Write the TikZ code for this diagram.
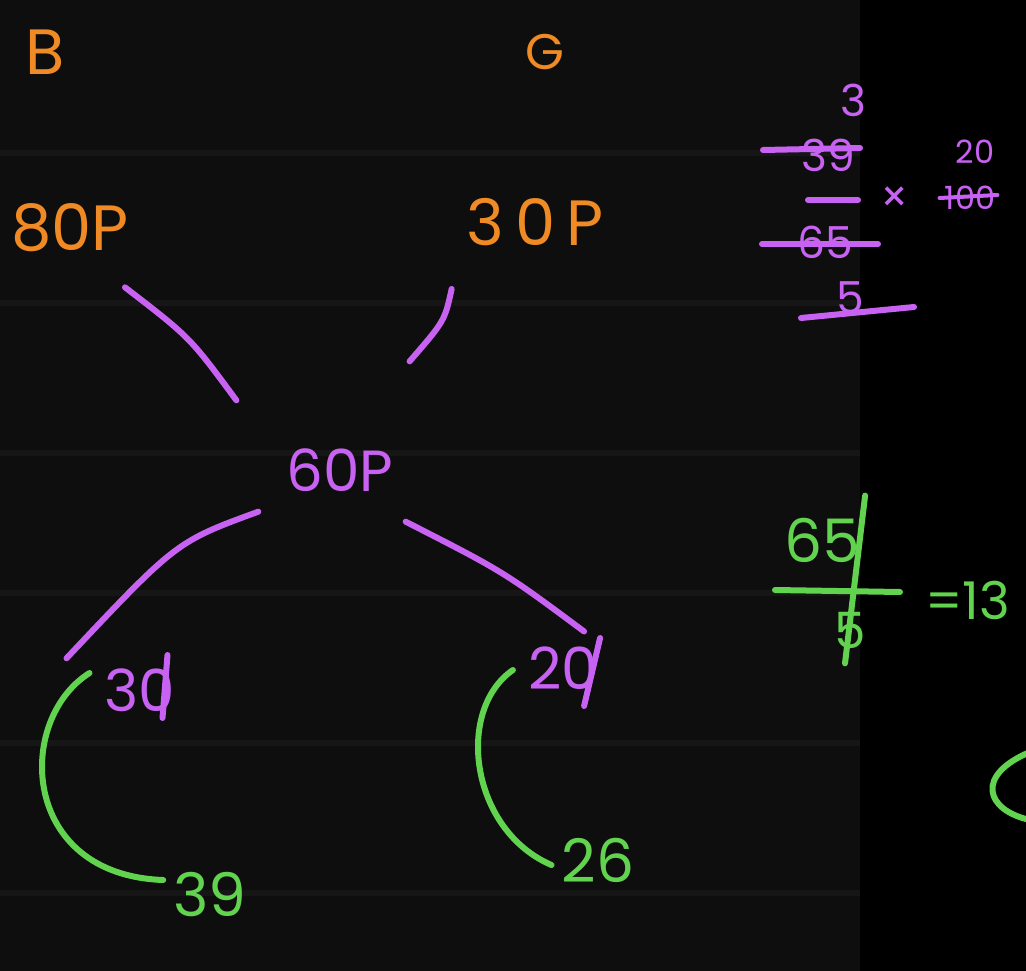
\documentclass[tikz,border=0pt]{standalone}
\usepackage{fontspec}
\setmainfont{Poppins}
\usetikzlibrary{calc}
\definecolor{bgA}{HTML}{0E0E0E}
\definecolor{bgB}{HTML}{000000}
\definecolor{band}{HTML}{161616}
\definecolor{ink1}{HTML}{F08A24}
\definecolor{ink2}{HTML}{C862F2}
\definecolor{ink3}{HTML}{62D34F}
\tikzset{
  or/.style={text=ink1,inner sep=0pt,font=\fontsize{64}{64}\selectfont},
  pu/.style={text=ink2,inner sep=0pt,font=\fontsize{58}{58}\selectfont},
  pus/.style={text=ink2,inner sep=0pt,font=\fontsize{44}{44}\selectfont},
  puxs/.style={text=ink2,inner sep=0pt,font=\fontsize{32}{32}\selectfont},
  gr/.style={text=ink3,inner sep=0pt,font=\fontsize{60}{60}\selectfont},
  pstroke/.style={draw=ink2,line width=6pt,line cap=round},
  gstroke/.style={draw=ink3,line width=6pt,line cap=round},
}
\begin{document}
\begin{tikzpicture}[x=1pt,y=-1pt]
\useasboundingbox (0,0) rectangle (1026,971);
\fill[bgA] (0,0) rectangle (860,971);
\fill[bgB] (860,0) rectangle (1026,971);
\foreach \yy in {150,300,450,590,740,890}{\fill[band] (0,\yy) rectangle (860,\yy+6);}
% orange headings
\node[or] (B) at (45,52) {B};
\node[or,font=\fontsize{50}{50}\selectfont] (G) at (545,52) {G};
\node[or] (b80) at (70,228) {80P};
\node[or] (g30) at (535,222) {3\,0\,P};
% purple middle
\node[pu] (m60) at (340,470) {60P};
\node[pu] (n30) at (140,690) {30};
\node[pu] (n20) at (563,668) {20};
\draw[pstroke] ($(b80.south)+(55,35)$) .. controls ($(b80.south)+(120,85)$) .. ($(m60.north west)+(-50,-48)$);
\draw[pstroke] ($(g30.south west)+(-15,43)$) .. controls ($(g30.south west)+(-22,75)$) .. ($(m60.north east)+(16,-87)$);
\draw[pstroke] ($(m60.south west)+(-28,20)$) .. controls ($(m60.south west)+(-110,50)$) .. ($(n30.north west)+(-38,-10)$);
\draw[pstroke] ($(m60.south east)+(12,30)$) .. controls ($(m60.south east)+(110,80)$) .. ($(n20.north east)+(-14,-15)$);
\draw[pstroke] ($(n30.east)+(-8,-35)$) -- ($(n30.east)+(-13,28)$);
\draw[pstroke] ($(n20.east)+(2,-30)$) -- ($(n20.east)+(-14,38)$);
% green results
\node[gr] (r39) at (210,895) {39};
\node[gr] (r26) at (598,860) {26};
\draw[gstroke] ($(n30.west)+(-15,-17)$) .. controls (15,720) and (20,875) .. ($(r39.west)+(-10,-15)$);
\draw[gstroke] ($(n20.west)+(-15,2)$) .. controls (455,710) and (470,830) .. ($(r26.west)+(-10,5)$);
% purple calculation top right
\node[pus] (c3) at (853,100) {3};
\node[pus] (c39) at (828,155) {39};
\draw[pstroke] ($(c39.west)+(-38,-5)$) -- ($(c39.east)+(5,-7)$);
\coordinate (cbarL) at (808,200);
\coordinate (cbarR) at (858,200);
\draw[pstroke] (cbarL) -- (cbarR);
\node[pus] (cx) at (895,200) {×};
\node[puxs] (c20) at (975,152) {20};
\node[puxs] (c100) at (970,198) {100};
\draw[pstroke,line width=4pt] ($(c100.west)+(-5,0)$) -- ($(c100.east)+(2,-3)$);
\node[pus] (c65) at (825,242) {65};
\draw[pstroke] ($(c65.west)+(-35,2)$) -- ($(c65.east)+(25,2)$);
\node[pus] (c5) at (850,298) {5};
\draw[pstroke] ($(c5.west)+(-35,20)$) -- ($(c5.east)+(50,9)$);
% green calculation
\node[gr] (q65) at (822,540) {65};
\coordinate (qbarL) at (775,590);
\coordinate (qbarR) at (900,592);
\draw[gstroke] (qbarL) -- (qbarR);
\node[gr,font=\fontsize{50}{50}\selectfont] (q5) at (850,630) {5};
\draw[gstroke] ($(q65.north east)+(5,-22)$) -- ($(q5.south)+(-5,15)$);
\node[gr,font=\fontsize{52}{52}\selectfont,anchor=west] (q13) at (925,600) {=13};
\draw[gstroke] (1030,752) .. controls (975,775) and (985,810) .. (1030,820);
\end{tikzpicture}
\end{document}
